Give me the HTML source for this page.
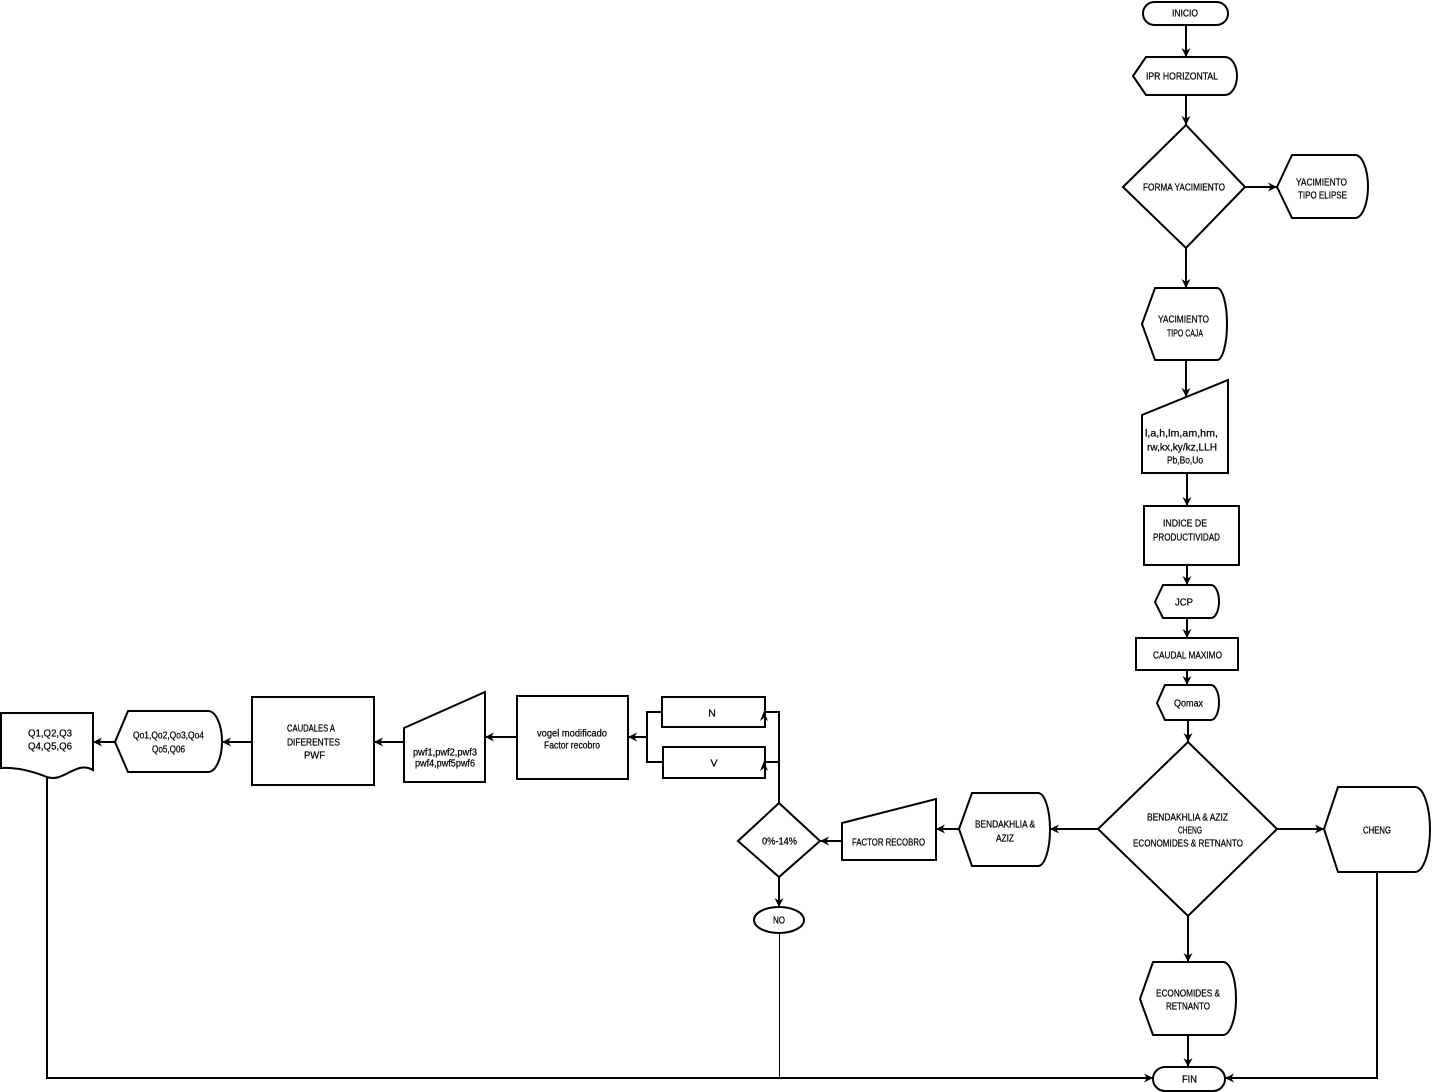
<!DOCTYPE html>
<html><head><meta charset="utf-8"><style>
html,body{margin:0;padding:0;background:#fff;}
svg{display:block;}
text{font-family:"Liberation Sans",sans-serif;font-size:10.5px;fill:#000;stroke:#000;stroke-width:0.25px;}
</style></head><body>
<svg width="1432" height="1092" viewBox="0 0 1432 1092" xmlns="http://www.w3.org/2000/svg">
<defs>
<marker id="a" viewBox="0 0 10 10" refX="10" refY="5" markerWidth="10" markerHeight="9" markerUnits="userSpaceOnUse" orient="auto">
<path d="M0,0 L10,5 L0,10 L3,5 z" fill="#000"/>
</marker>
</defs>
<rect width="1432" height="1092" fill="#fff"/>
<g fill="none" stroke="#000" stroke-width="2">
<rect x="1143" y="2" width="85" height="23" rx="11.5"/>
<path d="M1133,76 L1146,57 H1225 A12,19 0 0 1 1225,95 H1146 Z"/>
<path d="M1186,125 L1245,187 L1186,248 L1123,187 Z"/>
<path d="M1277,187 L1292,155 H1355 A13,31.5 0 0 1 1355,218 H1292 Z"/>
<path d="M1142,324 L1155,288 H1217 A10,36 0 0 1 1217,360 H1155 Z"/>
<path d="M1142,415 L1228,380 V473 H1142 Z"/>
<rect x="1144" y="506" width="95" height="59"/>
<path d="M1155,602 L1163,585 H1211 A8,16.5 0 0 1 1211,618 H1163 Z"/>
<rect x="1136" y="638" width="102" height="32"/>
<path d="M1157,703 L1165,685 H1211 A8,17.5 0 0 1 1211,720 H1165 Z"/>
<path d="M1188,742 L1277,829 L1188,916 L1098,829 Z"/>
<path d="M959,829 L972,793 H1038 A12,36.5 0 0 1 1038,866 H972 Z"/>
<path d="M1324,829 L1338,787 H1415 A15,42.5 0 0 1 1415,872 H1338 Z"/>
<path d="M1140,999 L1153,962 H1223 A13,36.5 0 0 1 1223,1035 H1153 Z"/>
<rect x="1153" y="1067" width="72" height="24" rx="12"/>
<path d="M842,823 L936,799 V860 H842 Z"/>
<path d="M779,803 L820,841 L779,877 L738,841 Z"/>
<ellipse cx="779" cy="920" rx="25" ry="13"/>
<rect x="662" y="697" width="103" height="30"/>
<rect x="663" y="747" width="102" height="31"/>
<rect x="517" y="696" width="111" height="83"/>
<path d="M404,728 L485,692 V782 H404 Z"/>
<rect x="252" y="697" width="122" height="88"/>
<path d="M115,742 L128,711 H208 A14,30.5 0 0 1 208,772 H128 Z"/>
<path d="M1,713 H93 V770 C76,760 64,783 47,777 C32,771 16,767 1,768 Z"/>
</g>
<g fill="none" stroke="#000" stroke-width="2">
<line x1="1186" y1="25" x2="1186" y2="57" marker-end="url(#a)"/>
<line x1="1186" y1="95" x2="1186" y2="125" marker-end="url(#a)"/>
<line x1="1245" y1="187" x2="1277" y2="187" marker-end="url(#a)"/>
<line x1="1186" y1="248" x2="1186" y2="288" marker-end="url(#a)"/>
<line x1="1186" y1="360" x2="1186" y2="397" marker-end="url(#a)"/>
<line x1="1187" y1="473" x2="1187" y2="506" marker-end="url(#a)"/>
<line x1="1187" y1="565" x2="1187" y2="585" marker-end="url(#a)"/>
<line x1="1187" y1="618" x2="1187" y2="638" marker-end="url(#a)"/>
<line x1="1187" y1="670" x2="1187" y2="685" marker-end="url(#a)"/>
<line x1="1188" y1="720" x2="1188" y2="742" marker-end="url(#a)"/>
<line x1="1277" y1="829" x2="1324" y2="829" marker-end="url(#a)"/>
<line x1="1098" y1="829" x2="1050" y2="829" marker-end="url(#a)"/>
<line x1="959" y1="829" x2="936" y2="829" marker-end="url(#a)"/>
<line x1="842" y1="841" x2="820" y2="841" marker-end="url(#a)"/>
<line x1="779" y1="877" x2="779" y2="907" marker-end="url(#a)"/>
<line x1="1188" y1="916" x2="1188" y2="962" marker-end="url(#a)"/>
<line x1="1188" y1="1035" x2="1188" y2="1067" marker-end="url(#a)"/>
<polyline points="1377,872 1377,1078 1225,1078" marker-end="url(#a)"/>
<polyline points="47,777 47,1078 1153,1078" marker-end="url(#a)"/>
<polyline points="779,803 779,712 765,712"/>
<polyline points="779,762 765,762"/>
<polyline points="662,712 647,712 647,762 663,762"/>
<line x1="647" y1="737" x2="628" y2="737" marker-end="url(#a)"/>
<line x1="517" y1="737" x2="485" y2="737" marker-end="url(#a)"/>
<line x1="404" y1="742" x2="374" y2="742" marker-end="url(#a)"/>
<line x1="252" y1="742" x2="222" y2="742" marker-end="url(#a)"/>
<line x1="115" y1="742" x2="93" y2="742" marker-end="url(#a)"/>
</g>
<line x1="779.5" y1="933" x2="779.5" y2="1078" stroke="#000" stroke-width="1"/>
<path d="M764,711 L768,721 L764,718 L760,721 Z" fill="#000"/>
<path d="M764,761 L768,771 L764,768 L760,771 Z" fill="#000"/>
<g text-anchor="middle">
<text x="1185" y="16.5" textLength="26" lengthAdjust="spacingAndGlyphs">INICIO</text>
<text x="1182" y="79.5" textLength="72" lengthAdjust="spacingAndGlyphs">IPR HORIZONTAL</text>
<text x="1184" y="190.5" textLength="82" lengthAdjust="spacingAndGlyphs">FORMA YACIMIENTO</text>
<text x="1321.5" y="185.5" textLength="51" lengthAdjust="spacingAndGlyphs">YACIMIENTO</text>
<text x="1322.5" y="198.5" textLength="49" lengthAdjust="spacingAndGlyphs">TIPO ELIPSE</text>
<text x="1183.5" y="322.5" textLength="51" lengthAdjust="spacingAndGlyphs">YACIMIENTO</text>
<text x="1185" y="336.5" textLength="36" lengthAdjust="spacingAndGlyphs">TIPO CAJA</text>
<text x="1181.5" y="436.5" textLength="73" lengthAdjust="spacingAndGlyphs">l,a,h,lm,am,hm,</text>
<text x="1182" y="450.5" textLength="70" lengthAdjust="spacingAndGlyphs">rw,kx,ky/kz,LLH</text>
<text x="1185" y="463.5" textLength="36" lengthAdjust="spacingAndGlyphs">Pb,Bo,Uo</text>
<text x="1185" y="526.5" textLength="44" lengthAdjust="spacingAndGlyphs">INDICE DE</text>
<text x="1186.5" y="540.5" textLength="67" lengthAdjust="spacingAndGlyphs">PRODUCTIVIDAD</text>
<text x="1184" y="605.5" textLength="18" lengthAdjust="spacingAndGlyphs">JCP</text>
<text x="1187.5" y="658.5" textLength="69" lengthAdjust="spacingAndGlyphs">CAUDAL MAXIMO</text>
<text x="1188.5" y="706.5" textLength="29" lengthAdjust="spacingAndGlyphs">Qomax</text>
<text x="1187.5" y="820.5" textLength="81" lengthAdjust="spacingAndGlyphs">BENDAKHLIA &amp; AZIZ</text>
<text x="1190" y="833.5" textLength="24" lengthAdjust="spacingAndGlyphs">CHENG</text>
<text x="1188" y="846.5" textLength="110" lengthAdjust="spacingAndGlyphs">ECONOMIDES &amp; RETNANTO</text>
<text x="1005" y="827.5" textLength="60" lengthAdjust="spacingAndGlyphs">BENDAKHLIA &amp;</text>
<text x="1005" y="841.5" textLength="18" lengthAdjust="spacingAndGlyphs">AZIZ</text>
<text x="1377" y="833.5" textLength="28" lengthAdjust="spacingAndGlyphs">CHENG</text>
<text x="1188" y="996.5" textLength="64" lengthAdjust="spacingAndGlyphs">ECONOMIDES &amp;</text>
<text x="1188" y="1009.5" textLength="44" lengthAdjust="spacingAndGlyphs">RETNANTO</text>
<text x="1189.5" y="1082.5" textLength="15" lengthAdjust="spacingAndGlyphs">FIN</text>
<text x="50" y="736.5" textLength="44" lengthAdjust="spacingAndGlyphs">Q1,Q2,Q3</text>
<text x="50" y="749.5" textLength="44" lengthAdjust="spacingAndGlyphs">Q4,Q5,Q6</text>
<text x="168.5" y="738.5" textLength="71" lengthAdjust="spacingAndGlyphs">Qo1,Qo2,Qo3,Qo4</text>
<text x="168.5" y="752.5" textLength="33" lengthAdjust="spacingAndGlyphs">Qo5,Q06</text>
<text x="311" y="731.5" textLength="48" lengthAdjust="spacingAndGlyphs">CAUDALES A</text>
<text x="313.5" y="745.5" textLength="53" lengthAdjust="spacingAndGlyphs">DIFERENTES</text>
<text x="314.5" y="758.5" textLength="21" lengthAdjust="spacingAndGlyphs">PWF</text>
<text x="445" y="755.5" textLength="64" lengthAdjust="spacingAndGlyphs">pwf1,pwf2,pwf3</text>
<text x="445" y="766.5" textLength="60" lengthAdjust="spacingAndGlyphs">pwf4,pwf5pwf6</text>
<text x="572" y="736.5" textLength="70" lengthAdjust="spacingAndGlyphs">vogel modificado</text>
<text x="572" y="748.5" textLength="56" lengthAdjust="spacingAndGlyphs">Factor recobro</text>
<text x="712" y="716.5">N</text>
<text x="714" y="766.5">V</text>
<text x="779.5" y="844.5" textLength="35" lengthAdjust="spacingAndGlyphs">0%-14%</text>
<text x="888.5" y="845.5" textLength="73" lengthAdjust="spacingAndGlyphs">FACTOR RECOBRO</text>
<text x="779" y="923.5" textLength="12" lengthAdjust="spacingAndGlyphs">NO</text>
</g>
</svg>
</body></html>
